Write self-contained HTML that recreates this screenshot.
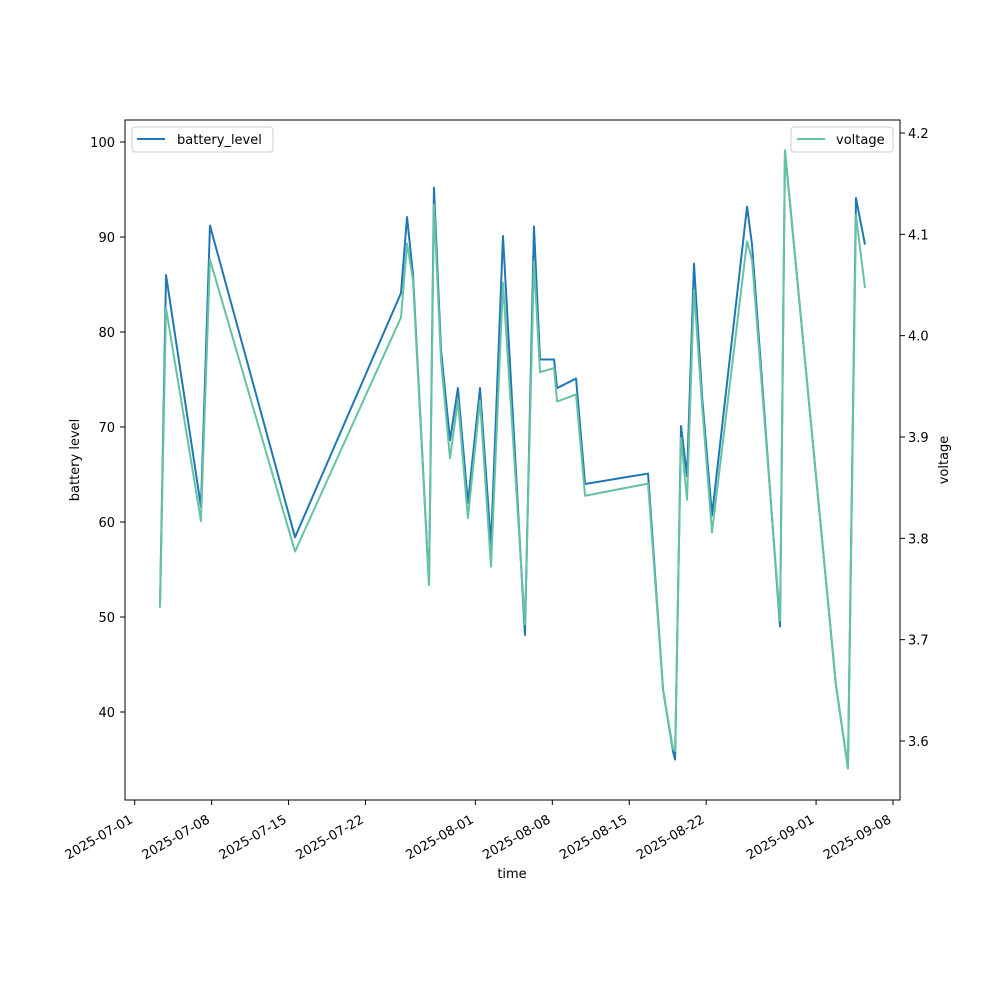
<!DOCTYPE html>
<html><head><meta charset="utf-8"><style>
body{margin:0;background:#fff;font-family:"Liberation Sans","DejaVu Sans",sans-serif}
svg text{font-family:"DejaVu Sans","Liberation Sans",sans-serif;font-size:13px;fill:#000}
</style></head><body>
<svg id="chart" width="1000" height="1000">
<rect x="0" y="0" width="1000" height="1000" fill="#fff"/>
<g id="lines"></g>
<rect x="125" y="120" width="775" height="680" fill="none" stroke="#000" stroke-width="1"/>
<g id="axes"></g>
<text x="512" y="878" text-anchor="middle">time</text>
<text transform="translate(79,460) rotate(-90)" text-anchor="middle">battery level</text>
<text transform="translate(948,460) rotate(-90)" text-anchor="middle">voltage</text>
<g>
<rect x="132" y="127" width="141" height="25" rx="3" fill="#fff" stroke="#ccc"/>
<line x1="137" y1="139" x2="165" y2="139" stroke="#1f77b4" stroke-width="2"/>
<text x="177" y="144">battery_level</text>
</g>
<g>
<rect x="791" y="127" width="102" height="25" rx="3" fill="#fff" stroke="#ccc"/>
<line x1="797" y1="139" x2="825" y2="139" stroke="#66c2a5" stroke-width="2"/>
<text x="836" y="144">voltage</text>
</g>
</svg>
<script>
const days = [2.30,2.85,6.03,6.85,14.59,24.23,24.78,25.32,26.78,27.23,27.87,28.69,29.41,30.32,31.42,32.42,33.51,35.51,36.33,36.88,38.16,38.43,40.16,40.98,46.71,48.08,48.99,49.17,49.71,50.26,50.89,51.62,52.53,55.72,56.17,58.72,59.17,63.81,64.90,65.63,66.45];
const battery = [51.0,86.0,61.6,91.2,58.4,84.1,92.1,86.1,53.4,95.2,78.1,68.6,74.1,62.0,74.1,57.6,90.1,48.1,91.1,77.1,77.1,74.1,75.1,64.0,65.1,42.3,35.8,35.0,70.1,64.8,87.2,73.3,60.7,93.2,89.2,49.0,99.1,42.8,34.1,94.1,89.2];
const voltage = [3.732,4.027,3.817,4.075,3.787,4.018,4.091,4.055,3.754,4.129,3.976,3.879,3.936,3.820,3.936,3.772,4.052,3.715,4.073,3.964,3.968,3.935,3.942,3.842,3.854,3.650,3.592,3.590,3.899,3.838,4.045,3.932,3.806,4.093,4.075,3.719,4.183,3.655,3.573,4.119,4.047];
const xTickDays = [0,7,14,21,31,38,45,52,62,69];
const xTickLabels = ["2025-07-01","2025-07-08","2025-07-15","2025-07-22","2025-08-01","2025-08-08","2025-08-15","2025-08-22","2025-09-01","2025-09-08"];
const leftTicks = [40,50,60,70,80,90,100];
const rightTicks = [3.6,3.7,3.8,3.9,4.0,4.1,4.2];

const NS="http://www.w3.org/2000/svg";
const xs = d => 134.7 + d*10.99;
const yl = v => 142 + (100-v)*9.5;
const yr = v => 133 + (4.2-v)*1013.3;
const lines=document.getElementById('lines'), axes=document.getElementById('axes');
function mk(tag,attrs,parent){const e=document.createElementNS(NS,tag);for(const k in attrs)e.setAttribute(k,attrs[k]);parent.appendChild(e);return e;}

const pb=mk('polyline',{points:days.map((d,i)=>xs(d)+','+yl(battery[i])).join(' '),fill:'none',stroke:'#1f77b4','stroke-width':2,'stroke-linejoin':'round'},lines);


const pv=mk('polyline',{points:days.map((d,i)=>xs(d)+','+yr(voltage[i])).join(' '),fill:'none',stroke:'#66c2a5','stroke-width':2,'stroke-linejoin':'round'},lines);



xTickDays.forEach((d,i)=>{const x=xs(d);
 const t=mk('line',{x1:x,y1:800,x2:x,y2:805,stroke:'#000'},axes);
 
 
 const l=mk('text',{transform:`translate(${x-1},${822}) rotate(-30)`,'text-anchor':'end'},axes);
 l.textContent=xTickLabels[i];
 
 
});
leftTicks.forEach(v=>{const y=yl(v);
 const t=mk('line',{x1:120,y1:y,x2:125,y2:y,stroke:'#000'},axes);
 
 
 const l=mk('text',{x:115,y:y+5,'text-anchor':'end'},axes);
 l.textContent=v;
 
 
});
rightTicks.forEach(v=>{const y=yr(v);
 const t=mk('line',{x1:900,y1:y,x2:905,y2:y,stroke:'#000'},axes);
 
 
 const l=mk('text',{x:908,y:y+5,'text-anchor':'start'},axes);
 l.textContent=v.toFixed(1);
 
 
});
</script>
</body></html>
